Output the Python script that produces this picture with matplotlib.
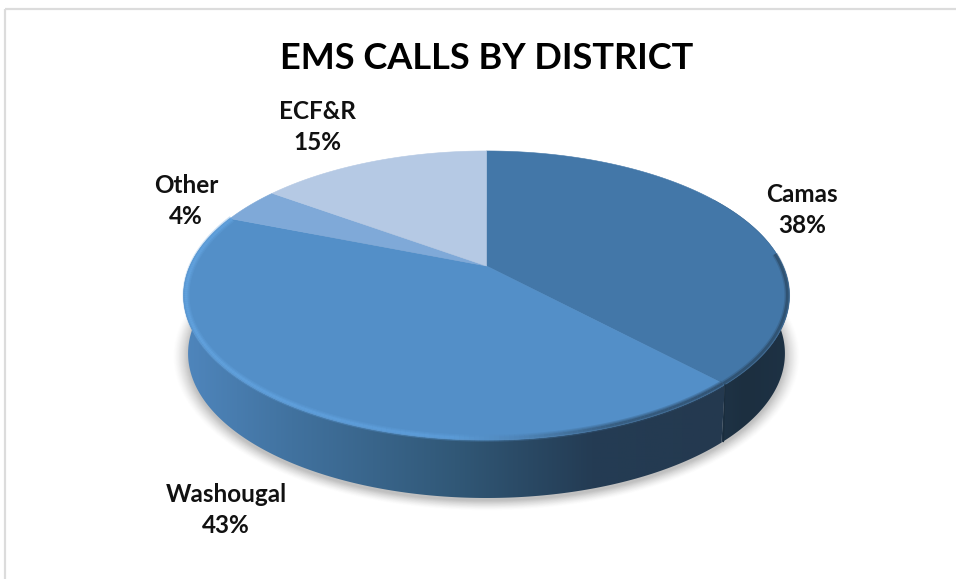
"""EMS calls by district, drawn as a tilted 3D style pie."""

import numpy as np
import matplotlib
matplotlib.use('Agg')
import matplotlib.pyplot as plt
from matplotlib.collections import LineCollection
from matplotlib.colors import LinearSegmentedColormap
from matplotlib.patches import Polygon

# slices, clockwise from 12 o'clock
districts = ['Camas', 'Washougal', 'Other', 'ECF&R']
shares = [38, 43, 4, 15]
top_colors = ['#4377a8', '#538fc8', '#7fa9d8', '#b5c9e4']

plt.rcParams['font.family'] = ['Lato', 'DejaVu Sans']

# pie plane to pixels (simple perspective, apex is above the ellipse centre)
APEX_X, APEX_Y = 486.5, 266.0
PERSP = 0.204
SCALE_X, SCALE_Y = 296.6, 138.5
DEPTH = 58.0


def project(t, r=1.0, drop=0.0, shrink=1.0):
    x = r * np.cos(t)
    y = r * np.sin(t)
    w = 1 + PERSP * y
    return (APEX_X + shrink * SCALE_X * x / w,
            APEX_Y - SCALE_Y * y / w + drop)


def rim(start, stop, **kw):
    t = np.radians(np.linspace(start, stop, 200))
    return np.column_stack(project(t, **kw))


fig = plt.figure(figsize=(9.56, 5.79), dpi=100)
ax = fig.add_axes([0, 0, 1, 1])
ax.axis('off')

# chart frame, only top and left show in the crop
ax.plot([5.5, 956], [8.5, 8.5], color='#dcdcdc', lw=1.6, solid_capstyle='butt')
ax.plot([5.5, 5.5], [8.5, 579], color='#dcdcdc', lw=1.6, solid_capstyle='butt')

# soft shadow
for grow, alpha in zip(np.linspace(1.065, 1.0, 16), np.linspace(0.012, 0.06, 16)):
    t = np.radians(np.linspace(0, 360, 300))
    px, py = project(t, drop=DEPTH + 3, shrink=0.985)
    px = APEX_X + (px - APEX_X) * (1 + (grow - 1) * 0.75)
    py = 296 + (py - DEPTH - 3 - 296) * grow + DEPTH + 3
    ax.fill(px, py, color='#808080', alpha=alpha, lw=0, zorder=1)

# angles of the slice edges, t runs counter clockwise from 3 o'clock
edges = 90 - 3.6 * np.cumsum([0] + shares)
camas_start, camas_stop = edges[0], edges[1]
wash_start, wash_stop = edges[1], edges[2]

side_cmaps = [
    LinearSegmentedColormap.from_list('camas', ['#20364a', '#1c2f40', '#1e3245']),
    LinearSegmentedColormap.from_list(
        'wash', [(0, '#4f86bd'), (0.2, '#41729f'), (0.5, '#315877'),
                 (0.75, '#243c54'), (1, '#24394f')]),
]
side_extents = [(700, 792), (182, 728)]
side_ranges = [(camas_start, camas_stop), (wash_start, wash_stop)]

grad = np.linspace(0, 1, 256).reshape(1, -1)
for cmap, (x0, x1), (a, b) in zip(side_cmaps, side_extents, side_ranges):
    upper = rim(a, b)
    lower = rim(a, b, drop=DEPTH, shrink=0.985)
    poly = Polygon(np.vstack([upper, lower[::-1]]), closed=True,
                   transform=ax.transData, fc='none', ec='none')
    ax.add_patch(poly)
    im = ax.imshow(grad, cmap=cmap, extent=[x0, x1, 510, 200], aspect='auto',
                   zorder=2, interpolation='bilinear')
    im.set_clip_path(poly)

# top faces
for i, color in enumerate(top_colors):
    pts = np.vstack([[APEX_X, APEX_Y], rim(edges[i], edges[i + 1])])
    ax.add_patch(Polygon(pts, closed=True, fc=color, ec=color, lw=0.4, zorder=3))

# bevel along the near rim, bright on the left and dark on the right
bevel = LinearSegmentedColormap.from_list(
    'bevel', [(0, '#62a2de'), (0.5, '#5c9cd8'), (0.62, '#4f85b8'),
              (0.8, '#355a7c'), (1, '#2f4d6b')])
pts = rim(wash_start, wash_stop, r=0.992)
segs = np.stack([pts[:-1], pts[1:]], axis=1)
for width, alpha in [(5.0, 0.3), (3.4, 0.4), (1.8, 0.8)]:
    lc = LineCollection(segs, cmap=bevel, linewidths=width, alpha=alpha,
                        zorder=4, capstyle='butt')
    lc.set_array((segs[:, 0, 0] - 183) / (727 - 183))
    lc.set_clim(0, 1)
    ax.add_collection(lc)

# Camas only has the dark rim on its near part
near = rim(camas_stop, 5, r=0.993)
for width, alpha in [(4.0, 0.3), (2.0, 0.7)]:
    ax.plot(near[:, 0], near[:, 1], color='#2c4a66', lw=width, alpha=alpha,
            zorder=4, solid_capstyle='butt')

# thin seam on the side between Camas and Washougal
seam_top = rim(camas_stop, camas_stop)[0]
ax.plot([seam_top[0], seam_top[0] - 1.5], [seam_top[1], seam_top[1] + DEPTH - 1],
        color='#1a2c3c', lw=0.8, zorder=4)

ax.set_xlim(0, 956)
ax.set_ylim(579, 0)

ax.text(487, 58.5, 'EMS CALLS BY DISTRICT', ha='center', va='center',
        fontsize=26, fontweight='bold', color='black')

label_x = [802, 226, 186, 317]
label_y = [210, 510, 201, 127]
for name, share, x, y in zip(districts, shares, label_x, label_y):
    ax.text(x, y, '%s\n%d%%' % (name, share), ha='center', va='center',
            fontsize=17.5, fontweight='bold', color='#111111', linespacing=1.42)

fig.savefig('out.png', dpi=100, facecolor='white')
